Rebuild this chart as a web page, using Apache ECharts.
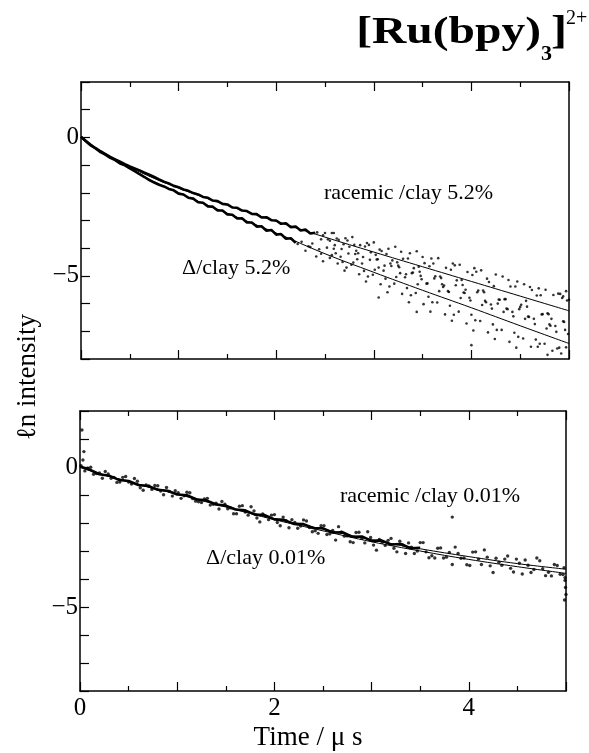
<!DOCTYPE html>
<html><head><meta charset="utf-8">
<script src="https://cdn.jsdelivr.net/npm/echarts@6/dist/echarts.min.js"></script>
<style>html,body{margin:0;padding:0;background:#fff}#c{width:589px;height:753px}</style>
</head><body><div id="c"></div>
<script>
// ---------- data ----------
const xTickLabels = ['0', '2', '4'];
const yTickLabels = {'0': '0', '-5': '\u22125'};

// fitted curves, top panel (clay 5.2%)
const fitT52 = [0,0.1,0.2,0.3,0.4,0.5,0.75,1,1.25,1.5,2,2.5,3,3.5,4,4.5,5];
const racemic52Fit = [0,-0.28,-0.52,-0.72,-0.91,-1.08,-1.48,-1.83,-2.15,-2.45,-3.03,-3.60,-4.14,-4.67,-5.20,-5.73,-6.26];
const delta52Fit   = [0,-0.28,-0.52,-0.73,-0.93,-1.11,-1.60,-2.00,-2.38,-2.74,-3.45,-4.20,-4.87,-5.52,-6.15,-6.80,-7.44];

// dense early traces, top panel
const traceT52 = [0,0.05,0.1,0.15,0.2,0.25,0.3,0.35,0.4,0.45,0.5,0.55,0.6,0.65,0.7,0.75,0.8,0.85,0.9,0.95,1.0,1.05,1.1,1.15,1.2,1.25,1.3,1.35,1.4,1.45,1.5,1.55,1.6,1.65,1.7,1.75,1.8,1.85,1.9,1.95,2.0,2.05,2.1,2.15,2.2,2.25,2.3,2.35,2.4];
const racemic52Trace = [0.02,-0.13,-0.27,-0.39,-0.50,-0.60,-0.70,-0.79,-0.88,-0.97,-1.05,-1.12,-1.19,-1.27,-1.35,-1.43,-1.52,-1.60,-1.66,-1.75,-1.80,-1.88,-1.93,-2.01,-2.06,-2.15,-2.18,-2.28,-2.30,-2.40,-2.42,-2.53,-2.54,-2.64,-2.66,-2.76,-2.77,-2.89,-2.88,-2.99,-3.00,-3.12,-3.10,-3.24,-3.22,-3.36,-3.33,-3.47,-3.44];
const delta52Trace = [0.02,-0.14,-0.29,-0.40,-0.53,-0.62,-0.74,-0.82,-0.94,-1.01,-1.12,-1.22,-1.33,-1.43,-1.54,-1.63,-1.71,-1.77,-1.86,-1.91,-2.03,-2.06,-2.18,-2.21,-2.34,-2.36,-2.49,-2.50,-2.64,-2.64,-2.78,-2.79,-2.93,-2.92,-3.07,-3.07,-3.22,-3.21,-3.37,-3.34,-3.51,-3.49,-3.66,-3.64,-3.81];

// scattered later points, top panel
const racemic52Pts = [[2.42,-3.43],[2.46,-3.68],[2.50,-3.45],[2.53,-3.68],[2.57,-3.45],[2.60,-3.89],[2.64,-3.70],[2.67,-4.03],[2.71,-3.64],[2.75,-3.95],[2.78,-3.60],[2.82,-4.09],[2.86,-3.89],[2.89,-4.32],[2.93,-3.81],[2.97,-4.15],[3.00,-3.79],[3.04,-4.40],[3.08,-4.10],[3.11,-4.63],[3.15,-4.02],[3.19,-4.44],[3.22,-3.95],[3.26,-4.69],[3.30,-4.38],[3.33,-4.94],[3.37,-4.18],[3.41,-4.72],[3.44,-4.11],[3.48,-5.00],[3.52,-4.54],[3.55,-5.27],[3.59,-4.37],[3.63,-5.01],[3.66,-4.36],[3.70,-5.30],[3.74,-4.71],[3.77,-5.58],[3.81,-4.55],[3.85,-5.16],[3.88,-4.60],[3.92,-5.60],[3.96,-4.86],[3.99,-5.89],[4.03,-4.72],[4.07,-5.53],[4.10,-4.80],[4.14,-5.90],[4.18,-5.22],[4.21,-6.18],[4.25,-4.95],[4.29,-5.86],[4.32,-5.02],[4.36,-6.18],[4.40,-5.38],[4.43,-6.46],[4.47,-5.20],[4.51,-6.04],[4.54,-5.30],[4.58,-6.47],[4.62,-5.51],[4.65,-6.74],[4.69,-5.45],[4.73,-6.38],[4.76,-5.50],[4.80,-6.75],[4.84,-5.69],[4.87,-7.02],[4.91,-5.65],[4.95,-6.66],[4.98,-5.89],
  [2.48,-3.53],[2.55,-3.73],[2.62,-3.65],[2.69,-3.86],[2.80,-3.88],[2.91,-3.94],[3.02,-4.24],[3.13,-4.21],[3.24,-4.51],[3.35,-4.37],[3.46,-4.67],[3.57,-4.65],[3.68,-5.02],[3.79,-4.78],[3.90,-5.15],[4.01,-4.97],[4.12,-5.53],[4.23,-5.37],[4.34,-5.84],[4.45,-5.38],[4.56,-5.90],[4.67,-5.71],[4.78,-6.35],[4.89,-5.64],[4.94,-5.74],[5.00,-5.86],
  [2.59,-3.45],[2.73,-3.72],[2.84,-4.18],[2.95,-3.88],[3.06,-4.05],[3.17,-4.55],[3.28,-4.13],[3.39,-4.90],[3.50,-4.32],[3.61,-4.55],[3.72,-5.35],[3.83,-4.62],[3.94,-5.50],[4.05,-4.85],[4.16,-5.10],[4.27,-6.00],[4.38,-5.15],[4.49,-6.20],[4.60,-5.40],[4.71,-5.70],[4.82,-6.55],[4.93,-5.80],[4.97,-5.55]];
const delta52Pts = [[2.22,-3.85],[2.26,-3.77],[2.30,-4.09],[2.33,-3.93],[2.37,-3.83],[2.41,-4.30],[2.44,-4.04],[2.48,-4.47],[2.52,-3.98],[2.55,-4.35],[2.59,-4.02],[2.63,-4.55],[2.66,-4.31],[2.70,-4.81],[2.74,-4.19],[2.77,-4.60],[2.81,-4.21],[2.85,-4.94],[2.88,-4.55],[2.92,-5.20],[2.96,-4.42],[2.99,-4.96],[3.03,-4.41],[3.07,-5.30],[3.10,-4.81],[3.14,-5.59],[3.18,-4.64],[3.21,-5.28],[3.25,-4.63],[3.29,-5.65],[3.32,-5.05],[3.36,-5.95],[3.40,-4.88],[3.43,-5.62],[3.47,-4.85],[3.51,-6.02],[3.54,-5.28],[3.58,-6.29],[3.62,-5.09],[3.65,-5.96],[3.69,-5.08],[3.73,-6.39],[3.76,-5.55],[3.80,-6.62],[3.84,-5.34],[3.87,-6.29],[3.91,-5.33],[3.95,-6.72],[3.98,-5.79],[4.02,-6.97],[4.06,-5.59],[4.09,-6.63],[4.13,-5.59],[4.17,-7.04],[4.20,-6.03],[4.24,-7.28],[4.28,-5.85],[4.31,-6.95],[4.35,-5.84],[4.39,-7.38],[4.42,-6.30],[4.46,-7.59],[4.50,-6.12],[4.53,-7.26],[4.57,-6.11],[4.61,-7.56],[4.64,-6.55],[4.68,-7.56],[4.72,-6.39],[4.75,-7.45],[4.79,-6.38],[4.83,-7.70],[4.86,-6.81],[4.90,-7.59],[4.94,-6.64],[4.97,-7.58],
  [2.35,-3.96],[2.46,-4.20],[2.57,-4.25],[2.68,-4.50],[2.79,-4.52],[2.90,-4.82],[3.01,-4.78],[3.12,-5.10],[3.23,-5.04],[3.34,-5.44],[3.45,-5.30],[3.56,-5.75],[3.67,-5.55],[3.78,-6.08],[3.89,-5.80],[4.00,-6.40],[4.11,-6.05],[4.22,-6.75],[4.33,-6.30],[4.44,-7.05],[4.55,-6.55],[4.66,-7.30],[4.77,-6.90],[4.88,-7.62],[4.99,-7.10],
  [2.61,-4.18],[2.72,-4.70],[2.83,-4.40],[2.94,-5.02],[3.05,-4.70],[3.16,-5.38],[3.27,-4.90],[3.38,-5.70],[3.49,-5.12],[3.60,-5.95],[3.71,-5.40],[3.82,-6.40],[3.93,-5.62],[4.04,-6.60],[4.15,-5.95],[4.26,-6.95],[4.37,-6.20],[4.48,-7.20],[4.59,-6.48],[4.70,-7.45],[4.81,-6.80],[4.92,-7.80],[4.96,-6.95],
  [3.05,-5.78],[3.44,-6.30],[4.00,-7.50],[4.78,-7.85]];

// bottom panel (clay 0.01%)
const fitT001 = [0,0.1,0.25,0.5,0.75,1,1.5,2,2.5,3,3.5,4,4.5,5];
const racemic001Fit = [0,-0.12,-0.28,-0.52,-0.74,-0.95,-1.40,-1.84,-2.22,-2.60,-2.92,-3.20,-3.45,-3.65];
const delta001Fit   = [0,-0.12,-0.29,-0.53,-0.76,-0.97,-1.43,-1.88,-2.28,-2.67,-3.00,-3.30,-3.56,-3.80];
const traceT001 = [0,0.1,0.2,0.3,0.4,0.5,0.6,0.7,0.8,0.9,1.0,1.1,1.2,1.3,1.4,1.5,1.6,1.7,1.8,1.9,2.0,2.1,2.2,2.3,2.4,2.5,2.6,2.7,2.8,2.9,3.0,3.1,3.2,3.3,3.4,3.5];
const trace001 = [0.02,-0.10,-0.26,-0.31,-0.46,-0.50,-0.64,-0.68,-0.81,-0.85,-0.98,-1.01,-1.16,-1.19,-1.34,-1.38,-1.52,-1.55,-1.70,-1.72,-1.87,-1.89,-2.03,-2.04,-2.18,-2.19,-2.34,-2.33,-2.49,-2.48,-2.64,-2.62,-2.77,-2.75,-2.90,-2.89];
const racemic001Pts = [[0.08,-0.04],[0.14,-0.26],[0.20,-0.21],[0.26,-0.16],[0.32,-0.40],[0.38,-0.55],[0.44,-0.37],[0.50,-0.54],[0.56,-0.41],[0.62,-0.74],[0.68,-0.64],[0.74,-0.80],[0.80,-0.67],[0.86,-0.99],[0.92,-0.87],[0.98,-0.85],[1.04,-1.12],[1.10,-0.90],[1.16,-1.13],[1.22,-1.24],[1.28,-1.14],[1.34,-1.36],[1.40,-1.29],[1.46,-1.23],[1.52,-1.49],[1.58,-1.67],[1.64,-1.40],[1.70,-1.61],[1.76,-1.42],[1.82,-1.82],[1.88,-1.68],[1.94,-1.88],[2.00,-1.70],[2.06,-2.10],[2.12,-1.92],[2.18,-1.88],[2.24,-2.19],[2.30,-1.89],[2.36,-2.16],[2.42,-2.28],[2.48,-2.10],[2.54,-2.41],[2.60,-2.27],[2.66,-2.13],[2.72,-2.47],[2.78,-2.67],[2.84,-2.34],[2.90,-2.55],[2.96,-2.31],[3.02,-2.79],[3.08,-2.59],[3.14,-2.80],[3.20,-2.55],[3.26,-3.03],[3.32,-2.78],[3.38,-2.71],[3.44,-3.09],[3.50,-2.70],[3.56,-3.03],[3.62,-3.17],[3.68,-2.90],[3.74,-3.25],[3.80,-3.05],[3.86,-2.86],[3.92,-3.26],[3.98,-3.49],[4.04,-3.04],[4.10,-3.29],[4.16,-2.96],[4.22,-3.53],[4.28,-3.26],[4.34,-3.51],[4.40,-3.18],[4.46,-3.75],[4.52,-3.44],[4.58,-3.32],[4.64,-3.77],[4.70,-3.25],[4.76,-3.63],[4.82,-3.76],[4.88,-3.48],[4.94,-3.83],[4.98,-3.60],
  [0.01,0.05],[0.02,1.32],[0.03,0.25],[0.04,0.55],[3.83,-1.79]];
const delta001Pts = [[0.05,-0.14],[0.11,-0.01],[0.17,-0.23],[0.23,-0.40],[0.29,-0.25],[0.35,-0.37],[0.41,-0.54],[0.47,-0.34],[0.53,-0.61],[0.59,-0.51],[0.65,-0.83],[0.71,-0.68],[0.77,-0.66],[0.83,-0.86],[0.89,-0.73],[0.95,-1.04],[1.01,-0.92],[1.07,-1.03],[1.13,-0.92],[1.19,-1.22],[1.25,-1.27],[1.31,-1.12],[1.37,-1.33],[1.43,-1.50],[1.49,-1.33],[1.55,-1.46],[1.61,-1.67],[1.67,-1.38],[1.73,-1.72],[1.79,-1.57],[1.85,-1.96],[1.91,-1.76],[1.97,-1.72],[2.03,-1.98],[2.09,-1.79],[2.15,-2.17],[2.21,-1.98],[2.27,-2.11],[2.33,-1.93],[2.39,-2.31],[2.45,-2.37],[2.51,-2.10],[2.57,-2.39],[2.63,-2.61],[2.69,-2.32],[2.75,-2.46],[2.81,-2.70],[2.87,-2.33],[2.93,-2.71],[2.99,-2.52],[3.05,-2.97],[3.11,-2.69],[3.17,-2.62],[3.23,-2.90],[3.29,-2.65],[3.35,-3.09],[3.41,-2.86],[3.47,-3.00],[3.53,-2.70],[3.59,-3.24],[3.65,-3.25],[3.71,-2.89],[3.77,-3.22],[3.83,-3.48],[3.89,-3.09],[3.95,-3.25],[4.01,-3.52],[4.07,-3.03],[4.13,-3.48],[4.19,-3.22],[4.25,-3.77],[4.31,-3.40],[4.37,-3.29],[4.43,-3.62],[4.49,-3.29],[4.55,-3.82],[4.61,-3.51],[4.67,-3.66],[4.73,-3.35],[4.79,-3.88],[4.85,-3.89],[4.91,-3.52],[4.97,-3.84],
  [4.99,-3.95],[4.99,-4.05],[4.995,-4.30],[5.0,-4.55],[4.985,-4.75]];

// ---------- chart ----------
const serif = '"Liberation Serif","DejaVu Serif",serif';
const pairs = (t, v) => t.map((x, i) => [x, v[i]]);
const black = '#000';

function xAx(grid, pos, labels) {
  return {
    type: 'value', gridIndex: grid, position: pos, min: 0, max: 5, interval: 1,
    axisLine: {show: true, onZero: false, lineStyle: {color: black, width: 1.5}},
    axisTick: {show: true, inside: true, length: 9, lineStyle: {color: black, width: 1.2}},
    minorTick: {show: true, splitNumber: 2, length: 5, lineStyle: {color: black, width: 1.2}},
    splitLine: {show: false}, minorSplitLine: {show: false},
    axisLabel: {show: labels, margin: 5, color: black, fontFamily: serif, fontSize: 25,
      formatter: v => xTickLabels.indexOf(String(v)) >= 0 ? String(v) : ''}
  };
}
function yAx(grid, pos, main) {
  return {
    type: 'value', gridIndex: grid, position: pos, min: -8, max: 2, interval: 1,
    axisLine: {show: true, onZero: false, lineStyle: {color: black, width: 1.5}},
    axisTick: {show: main, inside: true, length: 9, lineStyle: {color: black, width: 1.2}},
    splitLine: {show: false},
    axisLabel: {show: main, margin: 2, color: black, fontFamily: serif, fontSize: 25,
      formatter: v => yTickLabels[String(v)] || ''}
  };
}
function fitLine(xi, t, v) {
  return {type: 'line', xAxisIndex: xi, yAxisIndex: xi, data: pairs(t, v), smooth: 0.4,
    showSymbol: false, lineStyle: {color: black, width: 1}, z: 5};
}
function trace(xi, d, w) {
  return {type: 'line', xAxisIndex: xi, yAxisIndex: xi, data: d,
    showSymbol: false, lineStyle: {color: black, width: w}, z: 3};
}
function pts(xi, d, s) {
  return {type: 'scatter', xAxisIndex: xi, yAxisIndex: xi, data: d, symbol: 'circle',
    symbolSize: s, itemStyle: {color: black}, z: 3};
}

const chart = echarts.init(document.getElementById('c'), null, {renderer: 'canvas'});
chart.setOption({
  animation: false,
  backgroundColor: '#fff',
  grid: [
    {left: 81, right: 20, top: 82, height: 277, outerBoundsMode: 'none'},
    {left: 80, right: 23, top: 411, height: 280, outerBoundsMode: 'none'}
  ],
  xAxis: [xAx(0, 'bottom', false), xAx(0, 'top', false), xAx(1, 'bottom', true), xAx(1, 'top', false)],
  yAxis: [yAx(0, 'left', true), yAx(0, 'right', false), yAx(1, 'left', true), yAx(1, 'right', false)],
  series: [
    trace(0, pairs(traceT52, racemic52Trace), 2.6),
    trace(0, pairs(traceT52.slice(0, delta52Trace.length), delta52Trace), 2.6),
    pts(0, racemic52Pts, 2.6),
    pts(0, delta52Pts, 2.6),
    fitLine(0, fitT52, racemic52Fit),
    fitLine(0, fitT52, delta52Fit),
    trace(2, pairs(traceT001, trace001), 2.6),
    pts(2, racemic001Pts, 3.4),
    pts(2, delta001Pts, 3.4),
    fitLine(2, fitT001, racemic001Fit),
    fitLine(2, fitT001, delta001Fit)
  ],
  graphic: [
    {type: 'text', x: 541, y: 33, scaleX: 1.25, style: {text: '[Ru(bpy)', font: 'bold 38px ' + serif, fill: black, align: 'right', verticalAlign: 'middle'}},
    {type: 'text', x: 541, y: 54, style: {text: '3', font: 'bold 22px ' + serif, fill: black, align: 'left', verticalAlign: 'middle'}},
    {type: 'text', x: 551, y: 33, scaleX: 1.2, style: {text: ']', font: 'bold 40px ' + serif, fill: black, align: 'left', verticalAlign: 'middle'}},
    {type: 'text', x: 566, y: 19, style: {text: '2+', font: '20px ' + serif, fill: black, align: 'left', verticalAlign: 'middle'}},
    {type: 'text', x: 324, y: 193, style: {text: 'racemic /clay 5.2%', font: '22px ' + serif, fill: black, align: 'left', verticalAlign: 'middle'}},
    {type: 'text', x: 182, y: 268, style: {text: '\u0394/clay 5.2%', font: '22px ' + serif, fill: black, align: 'left', verticalAlign: 'middle'}},
    {type: 'text', x: 340, y: 496, style: {text: 'racemic /clay 0.01%', font: '22px ' + serif, fill: black, align: 'left', verticalAlign: 'middle'}},
    {type: 'text', x: 206, y: 558, style: {text: '\u0394/clay 0.01%', font: '22px ' + serif, fill: black, align: 'left', verticalAlign: 'middle'}},
    {type: 'text', x: 308, y: 738, style: {text: 'Time / \u03bc s', font: '27px ' + serif, fill: black, align: 'center', verticalAlign: 'middle'}},
    {type: 'text', x: 28, y: 377, rotation: Math.PI / 2, style: {text: '\u2113n intensity', font: '27px ' + serif, fill: black, align: 'center', verticalAlign: 'middle'}}
  ]
});
</script></body></html>
